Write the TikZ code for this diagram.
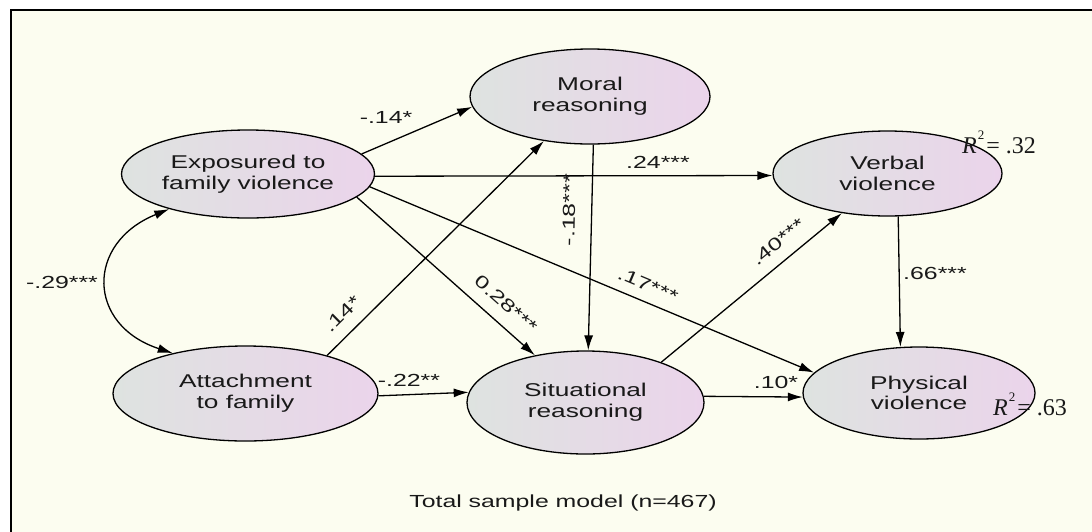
\documentclass[tikz,border=0pt]{standalone}
\usepackage{fontspec}
\newfontfamily\armfont[FakeStretch=1.42]{Liberation Sans}
\newfontfamily\timesfont{Liberation Serif}
\usetikzlibrary{shapes.geometric,arrows.meta}
\definecolor{paper}{RGB}{252,253,240}
\definecolor{ellgray}{RGB}{222,227,224}
\definecolor{ellpink}{RGB}{235,212,235}
\definecolor{ink}{RGB}{25,25,25}
\newcommand{\rsqval}[1]{{\itshape R}\kern1pt\raisebox{14pt}{\fontsize{13}{13}\selectfont 2}\kern2pt= #1}
\begin{document}
\begin{tikzpicture}[x=1pt,y=-1pt,
  latent/.style={ellipse, draw=black, line width=1.3pt, left color=ellgray,
    right color=ellpink, inner sep=0pt, align=center, text=ink,
    font=\armfont\fontsize{18.5}{20.7}\selectfont},
  link/.style={line width=1.3pt, -{Latex[length=15pt,width=9pt]}},
  corr/.style={line width=1.3pt, {Latex[length=15pt,width=9pt]}-{Latex[length=15pt,width=9pt]}},
  coef/.style={text=ink, inner sep=0pt, font=\armfont\fontsize{17.5}{20}\selectfont},
  rsq/.style={text=ink, inner sep=0pt, anchor=base west, font=\timesfont\fontsize{24}{24}\selectfont}
]
% canvas and frame
\clip (0,0) rectangle (1092,531);
\fill[white] (0,0) rectangle (1092,531);
\draw[line width=2.5pt, fill=paper] (11,10) rectangle (1110,550);

% latent variables
\node[latent, minimum width=253pt, minimum height=88pt] (expo) at (248,174) {Exposured to\\family violence};
\node[latent, minimum width=265pt, minimum height=95pt] (attach) at (245.5,393.5) {Attachment\\to family};
\node[latent, minimum width=240pt, minimum height=95pt] (moral) at (590,96.5) {Moral\\reasoning};
\node[latent, minimum width=237pt, minimum height=103pt] (situ) at (585.5,402.5) {Situational\\reasoning};
\node[latent, minimum width=229pt, minimum height=85pt] (verbal) at (887.5,173.5) {Verbal\\violence};
\node[latent, minimum width=232pt, minimum height=92pt] (phys) at (919,393) {Physical\\violence};

% structural paths
\draw[link] (expo.10) -- (moral.-175);
\draw[link] (expo.-1) -- (verbal.181);
\draw[link] (expo.-12) -- (situ.137);
\draw[link] (expo.-6) -- (phys.169);
\draw[link] (attach.25) -- (moral.-136);
\draw[link] (attach.-1) -- (situ.175);
\draw[link] (moral.-86) -- (situ.87);
\draw[link] (situ.28) -- (verbal.-139);
\draw[link] (verbal.-76) -- (phys.112);
\draw[link] (situ.3) -- (phys.182);
\draw[corr] (expo.204) .. controls +(-84,34) and +(-86,-28) .. (attach.151);

% path coefficients
\node[coef] (c1) at (386,117) {-.14*};
\node[coef] (c2) at (658,162) {.24***};
\node[coef, rotate=-41.6] (c3) at (506,304) {0.28***};
\node[coef, rotate=-22.8] (c4) at (648,285) {.17***};
\node[coef, rotate=44.7] (c5) at (342,314) {.14*};
\node[coef] (c6) at (409,380) {-.22**};
\node[coef, rotate=88.6] (c7) at (569,210) {-.18***};
\node[coef, rotate=39.5] (c8) at (778,242) {.40***};
\node[coef] (c9) at (935,273) {.66***};
\node[coef] (c10) at (776,382) {.10*};
\node[coef] (c11) at (62,282) {-.29***};

% explained variance
\node[rsq] (r1) at (962,153) {\rsqval{.32}};
\node[rsq] (r2) at (993,415) {\rsqval{.63}};

% caption
\node[coef] (cap) at (563,503) {Total sample model (n=467)};
\end{tikzpicture}
\end{document}
